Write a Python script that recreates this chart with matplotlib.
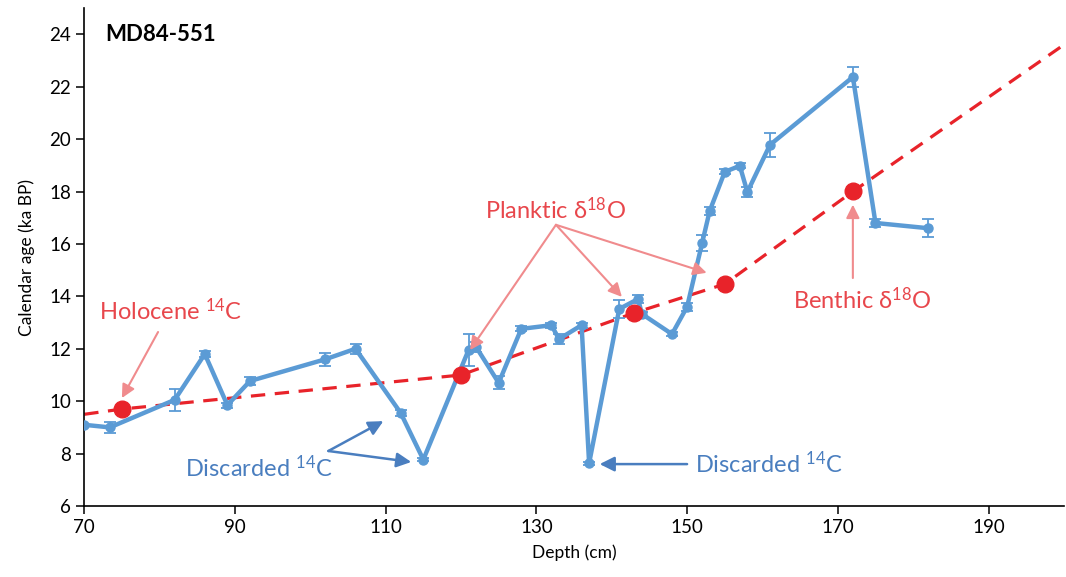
import matplotlib
matplotlib.use("Agg")
import matplotlib.pyplot as plt

plt.rcParams['font.family'] = ['Lato', 'DejaVu Sans']
plt.rcParams['mathtext.fontset'] = 'custom'
plt.rcParams['mathtext.rm'] = 'Lato'
plt.rcParams['mathtext.it'] = 'Lato'
plt.rcParams['mathtext.bf'] = 'Lato:bold'

# 14C ages (blue)
depth = [70, 73.4, 82, 86, 89, 92, 102, 106, 112, 115, 121, 122, 125, 128, 132, 133,
         136, 137, 141, 143.5, 144, 148, 150, 152, 153, 155, 157, 158, 161, 172, 175, 182]
age = [9.1, 9.0, 10.05, 11.8, 9.85, 10.77, 11.6, 12.0, 9.55, 7.77, 11.95, 12.07, 10.7,
       12.76, 12.9, 12.37, 12.9, 7.63, 13.52, 13.9, 13.33, 12.56, 13.6, 16.04, 17.26,
       18.75, 18.98, 17.98, 19.78, 22.37, 16.8, 16.6]
err = [0.0, 0.2, 0.42, 0.12, 0.1, 0.15, 0.25, 0.2, 0.1, 0.05, 0.6, 0.2, 0.25, 0.1, 0.1,
       0.2, 0.1, 0.05, 0.35, 0.15, 0.08, 0.08, 0.15, 0.3, 0.15, 0.1, 0.1, 0.2, 0.45,
       0.38, 0.15, 0.35]

# tie points (red)
tie_depth = [75, 120, 143, 155, 172]
tie_age = [9.7, 11.0, 13.37, 14.47, 18.02]

# age model line
model_depth = [70, 75, 120, 143, 155, 172, 200]
model_age = [9.5, 9.7, 11.0, 13.37, 14.47, 18.0, 23.6]

blue = '#5B9BD5'
red = '#E8232A'
red_txt = '#E8474C'
red_arr = '#F08B8D'
blue_txt = '#4A7EBF'

fig = plt.figure(figsize=(10.66, 5.77), dpi=100)
ax = fig.add_axes([0.079, 0.123, 0.919, 0.863])

ax.plot(model_depth, model_age, color=red, lw=2.3, dashes=(4.5, 3), zorder=2)
ax.errorbar(depth, age, yerr=err, color=blue, lw=3.2, marker='o', ms=6.5,
            ecolor=blue, elinewidth=1.3, capsize=4, capthick=1.3, zorder=3)
ax.plot(tie_depth, tie_age, 'o', color=red, ms=12, zorder=4)

ax.set_xlim(70, 200)
ax.set_ylim(6, 25)
ax.set_xticks(range(70, 200, 20))
ax.set_yticks(range(6, 26, 2))
ax.spines['top'].set_visible(False)
ax.spines['right'].set_visible(False)
ax.spines['left'].set_linewidth(1.2)
ax.spines['bottom'].set_linewidth(1.2)
ax.tick_params(direction='out', length=6, width=1.1, labelsize=13.5)
ax.set_xlabel('Depth (cm)', fontsize=12.5, labelpad=6)
ax.set_ylabel('Calendar age (ka BP)', fontsize=12.5, labelpad=10)

ax.text(72.8, 24, 'MD84-551', fontsize=16, fontweight='bold', va='center')


def arrow(x0, y0, x1, y1, color, lw=1.5, ms=20):
    ax.annotate('', xy=(x1, y1), xytext=(x0, y0),
                arrowprops=dict(arrowstyle='-|>', color=color, lw=lw,
                                mutation_scale=ms, shrinkA=0, shrinkB=0),
                zorder=5)


# annotations
ax.text(81.4, 13.44, 'Holocene $^{14}$C', color=red_txt, fontsize=17,
        ha='center', va='center')
arrow(79.8, 12.64, 75.0, 10.12, red_arr)

ax.text(93.2, 7.45, 'Discarded $^{14}$C', color=blue_txt, fontsize=17,
        ha='center', va='center')
arrow(102.4, 8.1, 109.7, 9.24, blue_txt, lw=1.8, ms=22)
arrow(102.4, 8.1, 113.4, 7.68, blue_txt, lw=1.8, ms=22)

ax.text(160.8, 7.6, 'Discarded $^{14}$C', color=blue_txt, fontsize=17,
        ha='center', va='center')
arrow(150.0, 7.6, 138.4, 7.6, blue_txt, lw=1.8, ms=22)

ax.text(132.6, 17.3, 'Planktic δ$^{18}$O', color=red_txt, fontsize=17,
        ha='center', va='center')
for tx, ty in [(121.2, 11.95), (141.35, 13.98), (152.6, 14.9)]:
    arrow(132.6, 16.73, tx, ty, red_arr)

ax.text(173.2, 13.86, 'Benthic δ$^{18}$O', color=red_txt, fontsize=17,
        ha='center', va='center')
arrow(172.0, 14.7, 172.0, 17.5, red_arr)

fig.savefig('out.png', dpi=100)
